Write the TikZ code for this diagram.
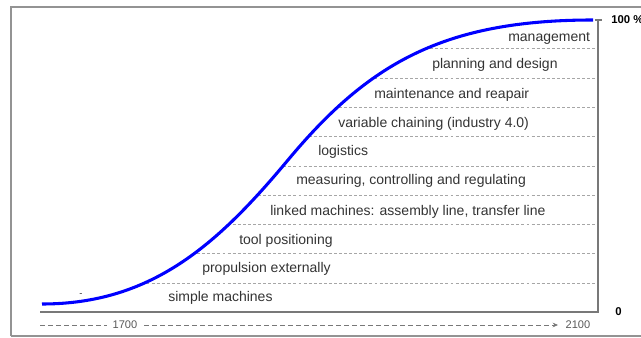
\documentclass[tikz,border=0pt]{standalone}
\usepackage{fontspec}
\setmainfont{Liberation Sans}
\usetikzlibrary{arrows.meta}
\usetikzlibrary{positioning}
\definecolor{mgray}{rgb}{0.47, 0.47, 0.47}
\definecolor{mtext}{rgb}{0.2, 0.2, 0.2}
\tikzset{row/.style = {anchor = west, inner sep = 0, text = mtext, yshift = -0.9pt,
                       font = \fontsize{10.5}{12}\selectfont}}
\tikzset{sep/.style = {draw = black!35, line width = 0.5pt,
                       dash pattern = on 2.2pt off 1.6pt}}
\tikzset{axlab/.style = {inner sep = 0, font = \bfseries\fontsize{8.5}{9}\selectfont}}
\tikzset{yearlab/.style = {inner sep = 1pt, text = black!65, font = \fontsize{8.3}{9}\selectfont}}

\begin{document}
\begin{tikzpicture}[x=0.75pt, y=-0.75pt]
      \useasboundingbox (0, 0) rectangle (641, 338);
      \draw [mgray!80, line width = 1.2pt] (11, 336) -- (11, 7) -- (660, 7);
      \draw [mgray!80, line width = 1.2pt] (11, 336) -- (660, 336);

      \coordinate (left) at (40, 312);
      \coordinate (origin) at (598, 312);
      \coordinate (top) at (598, 20);

      \begin{scope}
        \clip (42, 304) .. controls (152, 304) and (218, 244) .. (288, 160)
              .. controls (368, 64) and (443, 20) .. (593, 20) -- (598, 20) -- (origin) -- (left) -- cycle;
        \foreach \y in {48, 78, 107, 136, 166, 195, 224, 253, 283}
          \draw [sep] (30, \y) -- (598, \y);
      \end{scope}

      \draw [blue, line width = 2.3pt] (42, 304) .. controls (152, 304) and (218, 244) .. (288, 160)
            .. controls (368, 64) and (443, 20) .. (593, 20);

      \draw [mgray, line width = 1.4pt] (left) -- (origin) -- (top);
      \draw [mgray, line width = 1pt] (top) +(-3.5, 0) -- +(3.5, 0);

      \node [axlab, anchor = west] (full) at (611, 20) {100 \%};
      \node [axlab, anchor = west] (zero) at (615, 312) {0};

      \node [row] (management) at (508, 37) {management};
      \node [row] (planning) at (432, 64) {planning and design};
      \node [row] (maintenance) at (374, 94) {maintenance and reapair};
      \node [row] (chaining) at (338, 123) {variable chaining (industry 4.0)};
      \node [row] (logistics) at (318, 151) {logistics};
      \node [row] (measuring) at (296, 180) {measuring, controlling and regulating};
      \node [row] (linked) at (270, 211) {linked machines: assembly line, transfer line};
      \node [row] (tool) at (239, 240) {tool positioning};
      \node [row] (propulsion) at (202, 268) {propulsion externally};
      \node [row] (simple) at (168, 297) {simple machines};
      \node [row, font = \fontsize{7}{8}\selectfont] (dash) at (79, 294) {-};

      \coordinate (t0) at (40, 325);
      \coordinate (t1) at (558, 325);
      \draw [mgray, line width = 0.6pt, dash pattern = on 3.5pt off 2.5pt,
             -{Stealth[length = 4pt, width = 3.5pt]}] (t0) -- (t1);
      \node [yearlab, fill = white, inner xsep = 4pt] (start) at (125, 325) {1700};
      \node [yearlab, anchor = west] (end) at (564, 325) {2100};
    \end{tikzpicture}
\end{document}
